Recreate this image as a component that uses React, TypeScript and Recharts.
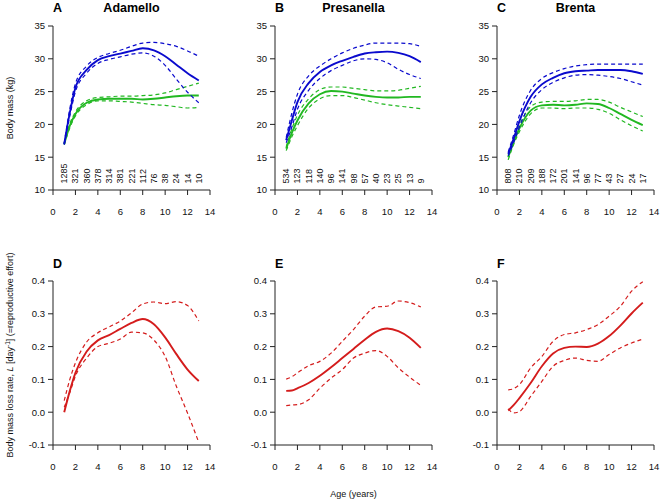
import React from 'react';
import { LineChart, Line, XAxis, YAxis, ReferenceDot } from 'recharts';

const FONT = '"Liberation Sans", Arial, Helvetica, sans-serif';
const BLUE = '#0A0ACD';
const GREEN = '#22B822';
const RED = '#D41C1C';

// ages where the fitted curves are sampled
const ages = [1, 1.5, 2, 3, 4, 5, 6, 7, 8, 9, 10, 11, 12, 13];
// ages of the sample size labels
const countAges = [1, 2, 3, 4, 5, 6, 7, 8, 9, 10, 11, 12, 13];
const COUNT_Y = 11;

const ageTicks = [0, 2, 4, 6, 8, 10, 12, 14];
const massTicks = [10, 15, 20, 25, 30, 35];
const lossTicks = [-0.1, 0, 0.1, 0.2, 0.3, 0.4];

// --- A: Adamello ---
const adaCounts = [1285, 321, 360, 378, 314, 381, 221, 112, 76, 38, 24, 14, 10];
const adaBlue = [17.0, 21.8, 25.6, 28.3, 29.8, 30.4, 30.8, 31.2, 31.6, 31.3, 30.4, 29.1, 27.8, 26.7];
const adaBlueHi = [17.1, 22.4, 26.2, 28.9, 30.2, 30.8, 31.3, 31.9, 32.4, 32.5, 32.3, 31.9, 31.2, 30.4];
const adaBlueLo = [16.9, 21.3, 25.0, 27.8, 29.3, 29.9, 30.3, 30.7, 30.9, 30.4, 29.0, 26.9, 24.9, 23.3];
const adaGreen = [17.0, 19.8, 21.6, 23.3, 23.8, 23.9, 23.9, 23.9, 23.8, 23.9, 24.1, 24.3, 24.4, 24.4];
const adaGreenHi = [17.1, 20.1, 21.9, 23.6, 24.1, 24.2, 24.3, 24.3, 24.4, 24.5, 24.8, 25.3, 25.8, 26.3];
const adaGreenLo = [16.9, 19.5, 21.3, 23.0, 23.6, 23.6, 23.5, 23.4, 23.2, 23.0, 22.9, 22.7, 22.5, 22.6];

// --- B: Presanella ---
const preCounts = [534, 123, 118, 140, 96, 141, 98, 57, 40, 23, 25, 13, 9];
const preBlue = [17.6, 20.6, 23.4, 26.3, 28.0, 29.0, 29.7, 30.3, 30.8, 31.0, 31.1, 30.9, 30.4, 29.5];
const preBlueHi = [18.0, 21.7, 24.6, 27.4, 28.9, 30.0, 30.9, 31.6, 32.1, 32.4, 32.4, 32.4, 32.3, 31.9];
const preBlueLo = [17.2, 19.6, 22.3, 25.2, 27.0, 28.2, 29.0, 29.7, 30.0, 29.9, 29.4, 28.4, 27.6, 27.0];
const preGreen = [16.3, 18.7, 20.6, 23.2, 24.6, 25.1, 25.0, 24.7, 24.4, 24.2, 24.1, 24.1, 24.2, 24.2];
const preGreenHi = [16.6, 19.3, 21.4, 23.9, 25.3, 25.7, 25.7, 25.5, 25.3, 25.1, 25.1, 25.2, 25.5, 25.8];
const preGreenLo = [16.0, 18.1, 19.8, 22.5, 23.9, 24.4, 24.4, 24.1, 23.7, 23.3, 23.0, 22.8, 22.6, 22.4];

// --- C: Brenta ---
const breCounts = [808, 210, 209, 188, 172, 201, 141, 96, 77, 43, 27, 24, 17];
const breBlue = [15.5, 17.9, 20.5, 24.2, 26.1, 27.1, 27.8, 28.1, 28.2, 28.3, 28.3, 28.3, 28.1, 27.7];
const breBlueHi = [15.8, 18.5, 21.4, 25.2, 27.0, 27.9, 28.5, 28.9, 29.1, 29.2, 29.2, 29.2, 29.2, 29.2];
const breBlueLo = [15.2, 17.3, 19.6, 23.3, 25.3, 26.4, 27.1, 27.5, 27.6, 27.5, 27.3, 27.0, 26.5, 26.0];
const breGreen = [15.0, 17.4, 19.4, 22.1, 22.9, 23.0, 22.9, 23.0, 23.2, 23.1, 22.5, 21.6, 20.7, 19.9];
const breGreenHi = [15.3, 17.8, 19.9, 22.7, 23.4, 23.5, 23.5, 23.6, 23.8, 23.8, 23.4, 22.6, 21.9, 21.2];
const breGreenLo = [14.6, 17.0, 18.9, 21.6, 22.5, 22.5, 22.4, 22.5, 22.5, 22.3, 21.7, 20.7, 19.8, 19.0];

// --- D/E/F: body mass loss rate ---
const adaLoss = [0.0, 0.065, 0.12, 0.185, 0.219, 0.235, 0.254, 0.272, 0.284, 0.268, 0.228, 0.177, 0.13, 0.095];
const adaLossHi = [0.035, 0.1, 0.15, 0.214, 0.242, 0.26, 0.278, 0.303, 0.33, 0.336, 0.331, 0.337, 0.325, 0.278];
const adaLossLo = [0.015, 0.06, 0.11, 0.165, 0.2, 0.21, 0.223, 0.244, 0.242, 0.22, 0.17, 0.079, -0.003, -0.092];

const preLoss = [0.065, 0.066, 0.073, 0.089, 0.111, 0.137, 0.165, 0.193, 0.221, 0.245, 0.255, 0.247, 0.227, 0.196];
const preLossHi = [0.101, 0.108, 0.12, 0.142, 0.155, 0.18, 0.216, 0.252, 0.293, 0.321, 0.323, 0.339, 0.334, 0.321];
const preLossLo = [0.02, 0.022, 0.023, 0.038, 0.073, 0.104, 0.13, 0.165, 0.18, 0.188, 0.17, 0.135, 0.107, 0.082];

const breLoss = [0.005, 0.022, 0.043, 0.089, 0.14, 0.179, 0.196, 0.2, 0.199, 0.209, 0.232, 0.264, 0.301, 0.334];
const breLossHi = [0.068, 0.072, 0.084, 0.135, 0.17, 0.216, 0.237, 0.242, 0.252, 0.267, 0.293, 0.323, 0.369, 0.398];
const breLossLo = [0.01, -0.002, 0.002, 0.048, 0.094, 0.14, 0.158, 0.165, 0.158, 0.155, 0.176, 0.196, 0.211, 0.223];

interface Series {
    key: string;
    values: number[];
    color: string;
    dashed?: boolean;
}

const CountLabel = ({ viewBox, n }: any) => {
    if (!viewBox) return null;
    const x = viewBox.x + (viewBox.width || 0) / 2;
    const y = viewBox.y + (viewBox.height || 0) / 2;
    return (
        <text
            transform={`translate(${x},${y}) rotate(-90)`}
            textAnchor="start"
            dominantBaseline="central"
            fontSize={9}
            fontFamily={FONT}
            fill="#111"
        >
            {n}
        </text>
    );
};

const PLOT_W = 157;
const PLOT_H = 164;
const Y_AXIS_W = 45;

interface PanelProps {
    left: number;
    top: number;
    series: Series[];
    yDomain: [number, number];
    yTicks: number[];
    yFormat?: (v: number) => string;
    counts?: number[];
}

const Panel: React.FC<PanelProps> = ({ left, top, series, yDomain, yTicks, yFormat, counts }) => {
    const data = ages.map((age, i) => {
        const row: any = { age };
        series.forEach((s) => { row[s.key] = s.values[i]; });
        return row;
    });
    return (
        <div style={{ position: 'absolute', left: left - Y_AXIS_W, top: top - 10 }}>
            <LineChart
                width={Y_AXIS_W + PLOT_W + 12}
                height={10 + PLOT_H + 30}
                data={data}
                margin={{ top: 10, right: 12, bottom: 0, left: 0 }}
            >
                <XAxis
                    type="number"
                    dataKey="age"
                    domain={[0, 14]}
                    ticks={ageTicks}
                    interval={0}
                    height={30}
                    tickSize={5}
                    tickMargin={13}
                    stroke="#222"
                    tick={{ fill: '#111', fontSize: 9.5, fontFamily: FONT }}
                />
                <YAxis
                    type="number"
                    domain={yDomain}
                    ticks={yTicks}
                    interval={0}
                    allowDataOverflow
                    width={Y_AXIS_W}
                    tickSize={5}
                    tickMargin={3}
                    stroke="#222"
                    tickFormatter={yFormat}
                    tick={{ fill: '#111', fontSize: 9.5, fontFamily: FONT }}
                />
                {series.map((s) => (
                    <Line
                        key={s.key}
                        type="monotone"
                        dataKey={s.key}
                        stroke={s.color}
                        strokeWidth={s.dashed ? 1.2 : 1.9}
                        strokeDasharray={s.dashed ? '4 3' : undefined}
                        dot={false}
                        activeDot={false}
                        isAnimationActive={false}
                    />
                ))}
                {counts && counts.map((n, i) => (
                    <ReferenceDot
                        key={'n' + i}
                        x={countAges[i]}
                        y={COUNT_Y}
                        r={0}
                        fill="none"
                        stroke="none"
                        label={<CountLabel n={n} />}
                    />
                ))}
            </LineChart>
        </div>
    );
};

const massSeries = (bm: number[], bh: number[], bl: number[], gm: number[], gh: number[], gl: number[]): Series[] => [
    { key: 'gh', values: gh, color: GREEN, dashed: true },
    { key: 'gl', values: gl, color: GREEN, dashed: true },
    { key: 'gm', values: gm, color: GREEN },
    { key: 'bh', values: bh, color: BLUE, dashed: true },
    { key: 'bl', values: bl, color: BLUE, dashed: true },
    { key: 'bm', values: bm, color: BLUE },
];

const lossSeries = (m: number[], h: number[], l: number[]): Series[] => [
    { key: 'h', values: h, color: RED, dashed: true },
    { key: 'l', values: l, color: RED, dashed: true },
    { key: 'm', values: m, color: RED },
];

const fmt1 = (v: number) => v.toFixed(1);

const COLS = [53, 275, 497];
const TOP_ROW = 26;
const BOTTOM_ROW = 281;

const titles = [
    { letter: 'A', name: 'Adamello' },
    { letter: 'B', name: 'Presanella' },
    { letter: 'C', name: 'Brenta' },
];
const lowerLetters = ['D', 'E', 'F'];

export default function App() {
    return (
        <div style={{ position: 'absolute', left: 0, top: 0, width: 661, height: 501, background: '#fff', fontFamily: FONT }}>
            <Panel left={COLS[0]} top={TOP_ROW} yDomain={[10, 35]} yTicks={massTicks} counts={adaCounts}
                series={massSeries(adaBlue, adaBlueHi, adaBlueLo, adaGreen, adaGreenHi, adaGreenLo)} />
            <Panel left={COLS[1]} top={TOP_ROW} yDomain={[10, 35]} yTicks={massTicks} counts={preCounts}
                series={massSeries(preBlue, preBlueHi, preBlueLo, preGreen, preGreenHi, preGreenLo)} />
            <Panel left={COLS[2]} top={TOP_ROW} yDomain={[10, 35]} yTicks={massTicks} counts={breCounts}
                series={massSeries(breBlue, breBlueHi, breBlueLo, breGreen, breGreenHi, breGreenLo)} />

            <Panel left={COLS[0]} top={BOTTOM_ROW} yDomain={[-0.1, 0.4]} yTicks={lossTicks} yFormat={fmt1}
                series={lossSeries(adaLoss, adaLossHi, adaLossLo)} />
            <Panel left={COLS[1]} top={BOTTOM_ROW} yDomain={[-0.1, 0.4]} yTicks={lossTicks} yFormat={fmt1}
                series={lossSeries(preLoss, preLossHi, preLossLo)} />
            <Panel left={COLS[2]} top={BOTTOM_ROW} yDomain={[-0.1, 0.4]} yTicks={lossTicks} yFormat={fmt1}
                series={lossSeries(breLoss, breLossHi, breLossLo)} />

            <svg width={661} height={501} style={{ position: 'absolute', left: 0, top: 0, pointerEvents: 'none' }}>
                {titles.map((t, i) => (
                    <g key={t.letter} fontFamily={FONT} fontWeight="bold" fontSize={12.5} fill="#000">
                        <text x={COLS[i]} y={12}>{t.letter}</text>
                        <text x={COLS[i] + PLOT_W / 2} y={12} textAnchor="middle">{t.name}</text>
                    </g>
                ))}
                {lowerLetters.map((l, i) => (
                    <text key={l} x={COLS[i]} y={268} fontFamily={FONT} fontWeight="bold" fontSize={12.5} fill="#000">{l}</text>
                ))}
                <text transform="translate(13,108) rotate(-90)" textAnchor="middle" fontFamily={FONT} fontSize={9} fill="#111">
                    Body mass (kg)
                </text>
                <text transform="translate(13,355) rotate(-90)" textAnchor="middle" fontFamily={FONT} fontSize={9} fill="#111">
                    Body mass loss rate, <tspan fontStyle="italic">L</tspan> [day<tspan dy={-3} fontSize={6.5}>-1</tspan><tspan dy={3}>] (=reproductive effort)</tspan>
                </text>
                <text x={COLS[1] + PLOT_W / 2} y={497} textAnchor="middle" fontFamily={FONT} fontSize={9} fill="#111">
                    Age (years)
                </text>
            </svg>
        </div>
    );
}
